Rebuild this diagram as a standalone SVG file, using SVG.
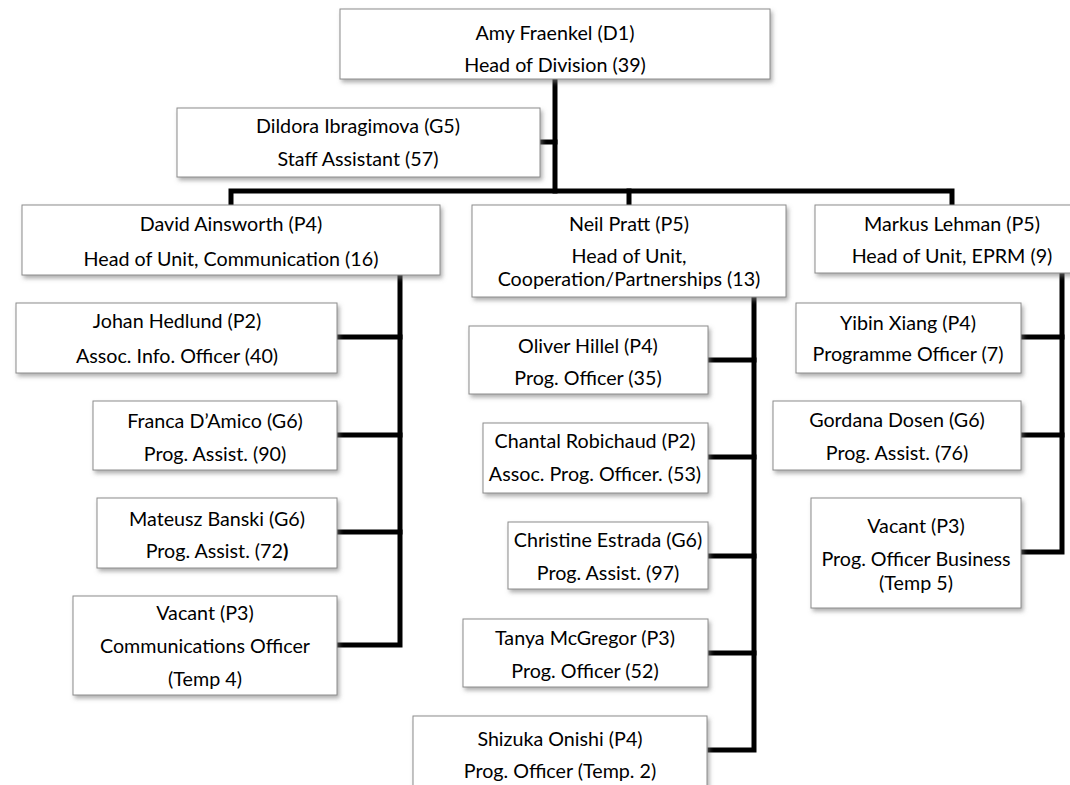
<svg xmlns="http://www.w3.org/2000/svg" width="1070" height="785" viewBox="0 0 1070 785">
<defs>
<filter id="sh" x="-10%" y="-10%" width="130%" height="140%">
<feDropShadow dx="2" dy="3" stdDeviation="2" flood-color="#7a7a7a" flood-opacity="0.6"/>
</filter>
<style>
.box{fill:#fff;stroke:#8c8c8c;stroke-width:1;filter:url(#sh)}
text{font-family:Lato,"Liberation Sans",sans-serif;font-size:19.7px;fill:#000;text-anchor:middle;dominant-baseline:central}
.c{fill:none;stroke:#000;stroke-width:5;stroke-linejoin:miter;stroke-linecap:square}
</style>
</defs>
<rect width="1070" height="785" fill="#fff"/>
<g id="connectors">
<path class="c" d="M555,81 V191"/>
<path class="c" d="M542,142 H555"/>
<path class="c" d="M231,203 V191 H952 V203"/>
<path class="c" d="M629,191 V203"/>
<path class="c" d="M400,277 V645 H339"/>
<path class="c" d="M339,337 H400 M339,435 H400 M339,532 H400"/>
<path class="c" d="M754,299 V750 H710"/>
<path class="c" d="M710,360 H754 M710,457 H754 M710,556 H754 M710,653 H754"/>
<path class="c" d="M1062,275 V552 H1023"/>
<path class="c" d="M1023,337 H1062 M1023,435 H1062"/>
</g>
<g id="amy"><rect class="box" x="340" y="9" width="430" height="70"/><text x="555" y="32">Amy Fraenkel (D1)</text><text x="555" y="64">Head of Division (39)</text></g>
<g id="dildora"><rect class="box" x="177" y="108" width="363" height="69"/><text x="358" y="125">Dildora Ibragimova (G5)</text><text x="358" y="158">Staff Assistant (57)</text></g>
<g id="david"><rect class="box" x="22" y="205" width="418" height="70"/><text x="231" y="223">David Ainsworth (P4)</text><text x="231" y="258">Head of Unit, Communication (16)</text></g>
<g id="neil"><rect class="box" x="472" y="205" width="314" height="92"/><text x="629" y="223">Neil Pratt (P5)</text><text x="629" y="255">Head of Unit,</text><text x="629" y="278">Cooperation/Partnerships (13)</text></g>
<g id="markus"><rect class="box" x="815" y="205" width="274" height="68"/><text x="952" y="223">Markus Lehman (P5)</text><text x="952" y="255">Head of Unit, EPRM (9)</text></g>
<g id="johan"><rect class="box" x="16" y="303" width="321" height="70"/><text x="177" y="320">Johan Hedlund (P2)</text><text x="177" y="355">Assoc. Info. Officer (40)</text></g>
<g id="franca"><rect class="box" x="93" y="401" width="244" height="69"/><text x="215" y="420">Franca D’Amico (G6)</text><text x="215" y="453">Prog. Assist. (90)</text></g>
<g id="mateusz"><rect class="box" x="97" y="498" width="240" height="70"/><text x="217" y="518">Mateusz Banski (G6)</text><text x="217" y="550">Prog. Assist. (72<tspan font-weight="bold">)</tspan></text></g>
<g id="vacant-comm"><rect class="box" x="73" y="596" width="264" height="99"/><text x="205" y="612">Vacant (P3)</text><text x="205" y="645">Communications Officer</text><text x="205" y="678">(Temp 4)</text></g>
<g id="oliver"><rect class="box" x="469" y="326" width="239" height="68"/><text x="588" y="345">Oliver Hillel (P4)</text><text x="588" y="377">Prog. Officer (35)</text></g>
<g id="chantal"><rect class="box" x="483" y="423" width="225" height="70"/><text x="595" y="440">Chantal Robichaud (P2)</text><text x="595" y="473">Assoc. Prog. Officer. (53)</text></g>
<g id="christine"><rect class="box" x="508" y="522" width="200" height="67"/><text x="608" y="539">Christine Estrada (G6)</text><text x="608" y="572">Prog. Assist. (97)</text></g>
<g id="tanya"><rect class="box" x="463" y="619" width="245" height="68"/><text x="585" y="637">Tanya McGregor (P3)</text><text x="585" y="670">Prog. Officer (52)</text></g>
<g id="shizuka"><rect class="box" x="413" y="716" width="294" height="90"/><text x="560" y="738">Shizuka Onishi (P4)</text><text x="560" y="770">Prog. Officer (Temp. 2)</text></g>
<g id="yibin"><rect class="box" x="796" y="303" width="225" height="70"/><text x="908" y="322">Yibin Xiang (P4)</text><text x="908" y="353">Programme Officer (7)</text></g>
<g id="gordana"><rect class="box" x="773" y="401" width="248" height="69"/><text x="897" y="419">Gordana Dosen (G6)</text><text x="897" y="452">Prog. Assist. (76)</text></g>
<g id="vacant-biz"><rect class="box" x="811" y="498" width="210" height="110"/><text x="916" y="525">Vacant (P3)</text><text x="916" y="558">Prog. Officer Business</text><text x="916" y="582">(Temp 5)</text></g>
</svg>
